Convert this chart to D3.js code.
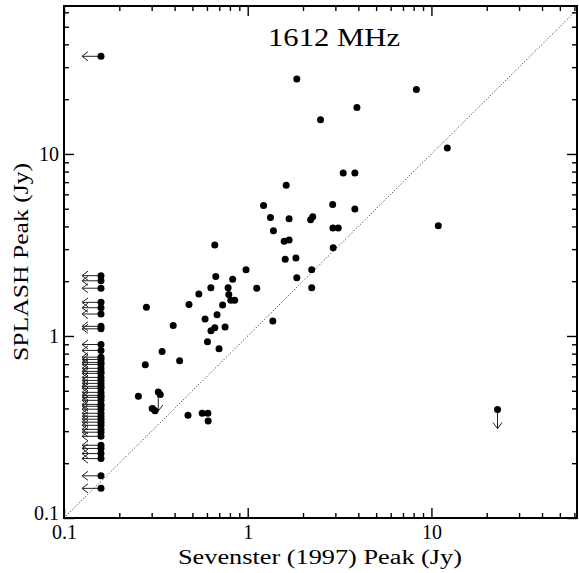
<!DOCTYPE html>
<html>
<head>
<meta charset="utf-8">
<script src="https://cdn.jsdelivr.net/npm/d3@7"></script>
<style>
  html, body { margin: 0; padding: 0; background: #fff; }
  svg { display: block; }
  text { font-family: "Liberation Serif", "DejaVu Serif", serif; fill: #000; }
</style>
</head>
<body>
<svg id="chart" width="579" height="573"></svg>
<script>
// ---- Data (Sevenster 1997 peak, SPLASH peak), Jy ----
// Detections
const detX = [1.85, 8.28, 3.93, 2.49, 12.2, 3.31, 3.83, 1.62, 1.22, 2.90, 3.83, 1.33, 1.68, 2.20, 2.26,
  10.9, 1.38, 2.91, 3.11, 1.58, 1.68, 0.662, 2.92, 1.60, 1.83, 0.979, 2.23, 0.670, 0.828, 1.85,
  0.630, 0.782, 1.12, 2.23, 0.542, 0.789, 0.809, 0.849, 0.281, 0.479, 0.730, 0.681, 0.586, 0.393,
  0.631, 0.662, 0.753, 1.37, 0.604, 0.698, 0.342, 0.277, 0.426, 0.254, 0.334, 0.302, 0.313, 0.473,
  0.565, 0.607, 0.609];
const detY = [25.8, 22.6, 18.0, 15.4, 10.8, 7.87, 7.87, 6.74, 5.21, 5.28, 4.98, 4.48, 4.40, 4.35, 4.52,
  4.03, 3.79, 3.92, 3.92, 3.31, 3.37, 3.16, 3.05, 2.64, 2.68, 2.31, 2.31, 2.12, 2.05, 2.09,
  1.84, 1.84, 1.83, 1.84, 1.70, 1.69, 1.57, 1.57, 1.44, 1.49, 1.48, 1.31, 1.24, 1.14,
  1.07, 1.11, 1.12, 1.21, 0.929, 0.851, 0.822, 0.695, 0.730, 0.466, 0.477, 0.399, 0.388, 0.367,
  0.376, 0.376, 0.341];

// Upper limits in Sevenster (arrow pointing left)
const limX = 0.159;
const limLeftY = [34.4, 2.145, 2.01, 1.83, 1.53, 1.43, 1.32, 1.13, 1.095, 0.898, 0.833, 0.765,
  0.743, 0.716, 0.698, 0.664, 0.639, 0.623, 0.592, 0.570, 0.549, 0.529, 0.516, 0.490, 0.472,
  0.460, 0.443, 0.421, 0.411, 0.396, 0.376, 0.362, 0.349, 0.336, 0.323, 0.307, 0.296, 0.281,
  0.251, 0.241, 0.226, 0.212, 0.1705, 0.1455];

// Upper limits in SPLASH (arrow pointing down)
const limDownX = [0.326, 22.9];
const limDownY = [0.492, 0.394];

const majorTicks = [0.1, 1, 10];
const tickLabels = ["0.1", "1", "10"];
const minorTicks = [0.2, 0.3, 0.4, 0.5, 0.6, 0.7, 0.8, 0.9, 2, 3, 4, 5, 6, 7, 8, 9, 20, 30, 40, 50, 60];

const title = "1612 MHz";
const xTitle = "Sevenster (1997) Peak (Jy)";
const yTitle = "SPLASH Peak (Jy)";

// ---- Layout ----
const L = 64, R = 577, T = 6, B = 518;
const svg = d3.select("#chart");

const x = d3.scaleLog().domain([0.1, 62]).range([L, R]);
const y = d3.scaleLog().domain([0.1, 65]).range([B, T]);

// Diagonal y = x
const dEnd = Math.min(x.domain()[1], y.domain()[1]);
svg.append("line")
  .attr("x1", x(0.1)).attr("y1", y(0.1))
  .attr("x2", x(dEnd)).attr("y2", y(dEnd))
  .attr("stroke", "#222").attr("stroke-width", 1)
  .attr("stroke-dasharray", "1,2");

// Axes (ticks inward on all four sides)
function styleAxis(g) {
  g.select(".domain").remove();
  g.selectAll(".tick line").attr("stroke", "#000").attr("stroke-width", 1.4);
  g.selectAll(".tick text").attr("font-family", "Liberation Serif, serif").attr("font-size", 20).attr("fill", "#000");
}
const fmt = d => tickLabels[majorTicks.indexOf(d)];

svg.append("g").attr("transform", `translate(0,${B})`)
  .call(d3.axisBottom(x).tickValues(majorTicks).tickSize(-10).tickPadding(7).tickFormat(fmt))
  .call(styleAxis);
svg.append("g").attr("transform", `translate(0,${B})`)
  .call(d3.axisBottom(x).tickValues(minorTicks).tickSize(-5).tickFormat(""))
  .call(styleAxis);
svg.append("g").attr("transform", `translate(0,${T})`)
  .call(d3.axisTop(x).tickValues(majorTicks).tickSize(-10).tickFormat(""))
  .call(styleAxis);
svg.append("g").attr("transform", `translate(0,${T})`)
  .call(d3.axisTop(x).tickValues(minorTicks).tickSize(-5).tickFormat(""))
  .call(styleAxis);

const yMajor = svg.append("g").attr("transform", `translate(${L},0)`)
  .call(d3.axisLeft(y).tickValues(majorTicks).tickSize(-10).tickPadding(5).tickFormat(fmt))
  .call(styleAxis);
yMajor.selectAll(".tick text").attr("dy", d => d === 0.1 ? "0.05em" : "0.32em");
svg.append("g").attr("transform", `translate(${L},0)`)
  .call(d3.axisLeft(y).tickValues(minorTicks).tickSize(-5).tickFormat(""))
  .call(styleAxis);
svg.append("g").attr("transform", `translate(${R},0)`)
  .call(d3.axisRight(y).tickValues(majorTicks).tickSize(-10).tickFormat(""))
  .call(styleAxis);
svg.append("g").attr("transform", `translate(${R},0)`)
  .call(d3.axisRight(y).tickValues(minorTicks).tickSize(-5).tickFormat(""))
  .call(styleAxis);

// Frame
svg.append("rect")
  .attr("x", L).attr("y", T).attr("width", R - L).attr("height", B - T)
  .attr("fill", "none").attr("stroke", "#000").attr("stroke-width", 2);

// Arrows
const arrowLen = 19, headL = 6, headW = 4.5;
const arrowG = svg.append("g").attr("stroke", "#222").attr("stroke-width", 1).attr("fill", "none");
limLeftY.forEach(v => {
  const px = x(limX), py = y(v), tip = px - arrowLen;
  arrowG.append("path")
    .attr("d", `M${px},${py}H${tip}M${tip + headL},${py - headW}L${tip},${py}L${tip + headL},${py + headW}`);
});
limDownX.forEach((v, i) => {
  const px = x(v), py = y(limDownY[i]), tip = py + arrowLen;
  arrowG.append("path")
    .attr("d", `M${px},${py}V${tip}M${px - headW},${tip - headL}L${px},${tip}L${px + headW},${tip - headL}`);
});

// Points
const r = 3.5;
const ptG = svg.append("g").attr("fill", "#000");
detX.forEach((v, i) => ptG.append("circle").attr("cx", x(v)).attr("cy", y(detY[i])).attr("r", r));
limLeftY.forEach(v => ptG.append("circle").attr("cx", x(limX)).attr("cy", y(v)).attr("r", r));
limDownX.forEach((v, i) => ptG.append("circle").attr("cx", x(v)).attr("cy", y(limDownY[i])).attr("r", r));

// Titles
svg.append("text").attr("x", 334).attr("y", 46).attr("text-anchor", "middle")
  .attr("font-size", 25).attr("textLength", 132).attr("lengthAdjust", "spacingAndGlyphs").text(title);
svg.append("text").attr("x", 320).attr("y", 564).attr("text-anchor", "middle")
  .attr("font-size", 20).attr("textLength", 284).attr("lengthAdjust", "spacingAndGlyphs").text(xTitle);
svg.append("text").attr("transform", `translate(28,${(T + B) / 2}) rotate(-90)`).attr("text-anchor", "middle")
  .attr("font-size", 20).attr("textLength", 198).attr("lengthAdjust", "spacingAndGlyphs").text(yTitle);
</script>
</body>
</html>
